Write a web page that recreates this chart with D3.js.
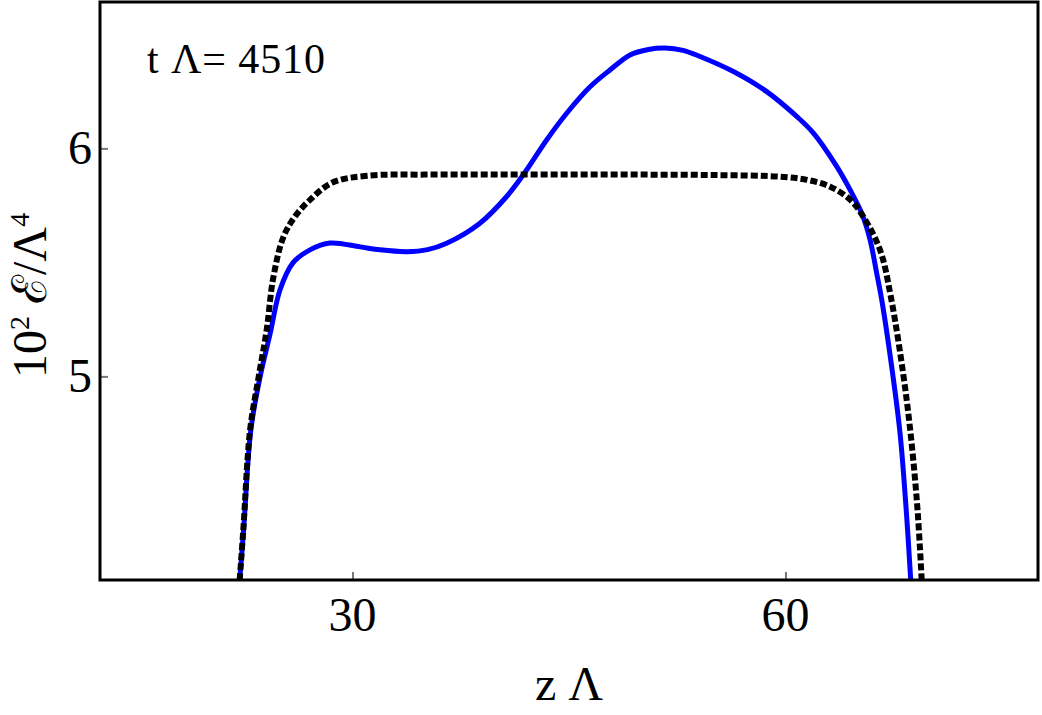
<!DOCTYPE html>
<html>
<head>
<meta charset="utf-8">
<script src="https://cdn.jsdelivr.net/npm/d3@7"></script>
<style>
  html, body { margin: 0; padding: 0; background: #fff; }
  svg { display: block; }
  text { font-family: "Liberation Serif", "Times New Roman", "DejaVu Serif", serif; fill: #000; }
</style>
</head>
<body>
<svg id="chart" width="1042" height="715"></svg>
<script>
// ---- data ----
const xTicks = [30, 60];
const yTicks = [5, 6];
const xDomain = [12.5, 77.5];
const yDomain = [4.107, 6.642];

const blueZ = [22.18, 22.45, 22.95, 23.6, 24.3, 24.97, 25.87, 27.05, 28.44, 30.52, 31.9, 33.75, 35.2, 36.52, 38.83, 40.68, 41.83, 43.45, 44.84, 46.46, 47.84, 49.23, 50.5, 51.65, 52.9, 54.08, 56.39, 58.7, 60.78, 61.94, 63.56, 64.48, 65.28, 65.86, 66.32, 66.67, 67.36, 67.94, 68.4, 68.68];
const blueE = [4.107, 4.327, 4.765, 5.0, 5.19, 5.379, 5.498, 5.555, 5.585, 5.568, 5.555, 5.547, 5.556, 5.584, 5.672, 5.789, 5.884, 6.037, 6.154, 6.27, 6.344, 6.41, 6.434, 6.44, 6.43, 6.403, 6.337, 6.249, 6.14, 6.067, 5.92, 5.818, 5.716, 5.6, 5.453, 5.336, 5.043, 4.751, 4.385, 4.107];

const dashZ = [22.18, 22.43, 22.9, 23.5, 24.05, 24.5, 25.2, 26.0, 27.05, 28.6, 31.0, 35, 40, 45, 50, 55, 59.6, 61.5, 63.1, 64.5, 65.4, 66.55, 67.3, 68.4, 69.1, 69.44];
const dashE = [4.107, 4.327, 4.765, 5.0, 5.204, 5.43, 5.61, 5.70, 5.774, 5.85, 5.88, 5.885, 5.885, 5.885, 5.885, 5.883, 5.876, 5.862, 5.832, 5.774, 5.70, 5.555, 5.35, 4.897, 4.458, 4.107];

const annotation = "t \u039B= 4510";

// ---- layout ----
const svg = d3.select("#chart");
const L = 100, R = 1038, T = 2, B = 580;

const x = d3.scaleLinear().domain(xDomain).range([L, R]);
const y = d3.scaleLinear().domain(yDomain).range([B, T]);

svg.append("defs").append("clipPath").attr("id", "clip")
  .append("rect").attr("x", L).attr("y", T).attr("width", R - L).attr("height", B - T);

const line = d3.line().x(d => x(d[0])).y(d => y(d[1])).curve(d3.curveCatmullRom.alpha(0.5));

const g = svg.append("g").attr("clip-path", "url(#clip)");
g.append("path")
  .datum(d3.zip(blueZ, blueE))
  .attr("d", line)
  .attr("fill", "none")
  .attr("stroke", "#0000ff")
  .attr("stroke-width", 5);
g.append("path")
  .datum(d3.zip(dashZ, dashE))
  .attr("d", line)
  .attr("fill", "none")
  .attr("stroke", "#000")
  .attr("stroke-width", 6)
  .attr("stroke-dasharray", "7,3");

// axes (ticks inward, gray)
const xAxis = svg.append("g").attr("transform", `translate(0,${B})`)
  .call(d3.axisTop(x).tickValues(xTicks).tickSize(8).tickFormat(""));
xAxis.select(".domain").remove();
xAxis.selectAll("line").attr("stroke", "#777").attr("stroke-width", 2);

const yAxis = svg.append("g").attr("transform", `translate(${L},0)`)
  .call(d3.axisRight(y).tickValues(yTicks).tickSize(8).tickFormat(""));
yAxis.select(".domain").remove();
yAxis.selectAll("line").attr("stroke", "#777").attr("stroke-width", 2);

// tick labels
svg.selectAll(".xlab").data(xTicks).enter().append("text")
  .attr("x", d => x(d)).attr("y", 631)
  .attr("text-anchor", "middle").attr("font-size", 48)
  .text(d => d);
svg.selectAll(".ylab").data(yTicks).enter().append("text")
  .attr("x", 92).attr("y", d => y(d) + 16)
  .attr("text-anchor", "end").attr("font-size", 48)
  .text(d => d);

// frame
svg.append("rect").attr("x", L).attr("y", T).attr("width", R - L).attr("height", B - T)
  .attr("fill", "none").attr("stroke", "#000").attr("stroke-width", 3);

// axis titles
svg.append("text").attr("x", (L + R) / 2).attr("y", 700)
  .attr("text-anchor", "middle").attr("font-size", 48)
  .text("z \u039B");

const yt = svg.append("text")
  .attr("transform", `translate(46,378) rotate(-90)`)
  .attr("text-anchor", "start").attr("font-size", 48);
yt.append("tspan").text("10");
yt.append("tspan").attr("dy", -17).attr("font-size", 28).text("2");
yt.append("tspan").attr("dy", 17).text(" \u2130/\u039B");
yt.append("tspan").attr("dy", -17).attr("font-size", 28).text("4");

// annotation
svg.append("text").attr("x", 147).attr("y", 73).attr("font-size", 42)
  .attr("textLength", 178).attr("lengthAdjust", "spacing")
  .text(annotation);
</script>
</body>
</html>
